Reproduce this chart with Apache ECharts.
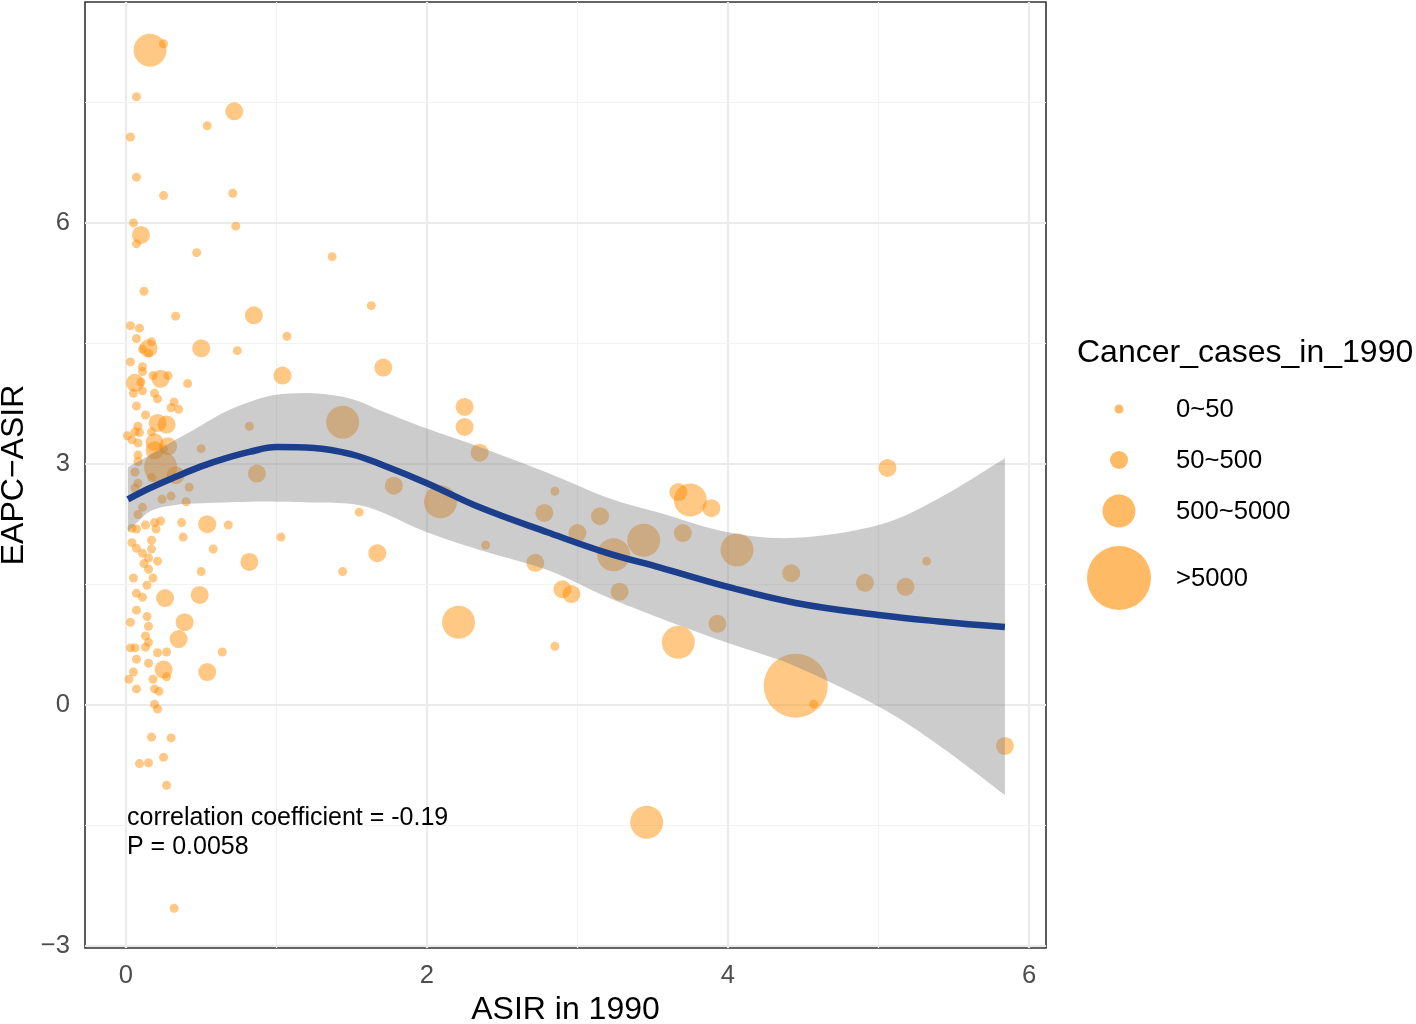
<!DOCTYPE html>
<html>
<head>
<meta charset="utf-8">
<script src="https://cdn.jsdelivr.net/npm/echarts@6/dist/echarts.min.js"></script>
<style>html,body{margin:0;padding:0;background:#fff}#c{width:1416px;height:1024px}</style>
</head>
<body>
<div id="c"></div>
<script>
// ---- data ----
const caseLabels = ['0~50', '50~500', '500~5000', '>5000'];
const asir = [
 0.16,0.25,0.07,0.72,0.54,0.03,0.07,0.25,0.71,0.05,
 0.73,0.10,0.07,0.47,0.12,1.37,1.63,0.85,0.33,1.07,
 0.03,0.09,0.07,0.17,0.15,0.11,0.15,0.50,0.74,1.71,
 1.04,0.03,0.11,0.11,0.06,0.10,0.18,0.23,0.28,0.05,
 0.11,0.19,0.21,0.41,0.07,0.32,0.30,0.35,0.13,0.21,
 0.27,0.08,0.06,0.01,0.17,0.09,0.04,0.08,0.19,0.28,
 0.19,0.25,0.08,0.08,0.23,0.82,0.50,1.44,2.25,2.25,
 2.35,0.06,0.08,0.06,0.17,0.33,0.42,0.87,0.24,0.30,
 0.40,0.11,0.08,0.04,0.07,0.13,0.19,0.23,0.20,0.37,
 0.54,0.68,0.38,1.03,0.04,0.17,0.07,0.11,0.17,0.58,
 0.15,0.12,0.21,0.15,0.82,0.50,0.05,0.18,0.14,0.07,
 0.11,0.26,0.49,0.07,0.14,0.15,0.39,0.03,0.13,0.15,
 0.35,0.03,0.06,0.13,0.21,0.27,0.64,0.07,0.15,0.25,
 0.54,0.05,0.02,0.18,0.27,0.07,0.19,0.22,0.19,0.21,
 0.17,0.30,0.25,0.09,0.15,0.27,0.32,1.78,2.09,1.55,
 2.85,2.78,3.15,3.00,3.44,3.24,3.70,3.67,3.75,3.89,
 4.06,2.72,2.90,2.96,3.28,2.85,3.93,3.67,4.45,4.57,
 5.06,4.42,4.91,5.18,5.32,5.84,3.46,2.21,1.67,1.44,2.39
];
const eapc = [
 8.15,8.23,7.57,7.39,7.21,7.07,6.57,6.34,6.37,6.00,
 5.96,5.85,5.74,5.63,5.15,5.58,4.97,4.85,4.84,4.59,
 4.72,4.69,4.56,4.52,4.44,4.43,4.38,4.44,4.41,4.20,
 4.10,4.27,4.21,4.15,4.01,4.02,4.10,4.06,4.10,3.88,
 3.91,3.88,3.81,4.00,3.72,3.77,3.70,3.68,3.61,3.51,
 3.49,3.47,3.40,3.35,3.40,3.39,3.30,3.26,3.27,3.22,
 3.17,3.19,3.11,3.03,2.96,3.47,3.19,3.52,3.71,3.46,
 3.14,2.90,2.76,2.70,2.83,2.86,2.71,2.88,2.56,2.60,
 2.53,2.46,2.37,2.20,2.19,2.24,2.27,2.29,2.19,2.27,
 2.25,2.24,2.09,2.09,2.02,2.05,1.95,1.89,1.94,1.94,
 1.83,1.76,1.79,1.69,1.78,1.66,1.58,1.58,1.49,1.39,
 1.34,1.33,1.37,1.18,1.10,0.98,1.03,1.03,0.86,0.78,
 0.82,0.71,0.71,0.72,0.65,0.66,0.66,0.57,0.52,0.44,
 0.41,0.41,0.32,0.32,0.35,0.20,0.20,0.17,0.01,-0.05,
 -0.40,-0.41,-0.65,-0.73,-0.72,-1.00,-2.53,2.73,2.53,2.40,
 2.66,2.39,2.35,2.14,2.05,1.87,2.14,2.65,2.55,2.45,
 1.93,1.77,1.44,1.38,1.41,0.73,1.01,0.78,0.24,0.01,
 2.95,1.64,1.52,1.47,1.79,-0.51,-1.46,1.03,1.89,1.66,1.99
];
// index into caseLabels
const caseGroup = [
 2,0,0,1,0,0,0,0,0,0,
 0,1,0,0,0,0,0,1,0,0,
 0,0,0,0,1,0,0,1,0,1,
 1,0,0,0,1,0,0,1,0,0,
 0,0,0,0,0,0,0,0,0,1,
 1,0,0,0,0,0,0,0,1,1,
 1,0,0,0,2,0,0,2,1,1,
 1,0,0,0,0,1,0,1,0,0,
 0,0,0,0,0,0,0,0,0,0,
 1,0,0,0,0,0,0,0,0,0,
 0,0,0,0,1,0,0,0,0,0,
 0,1,1,0,0,0,1,0,0,0,
 1,0,0,0,0,0,0,0,0,1,
 1,0,0,0,0,0,0,0,0,0,
 0,0,0,0,0,0,0,1,2,0,
 0,1,1,1,2,2,1,1,2,1,
 2,1,1,1,1,0,1,2,3,0,
 1,1,1,1,0,1,2,2,1,0,0
];
// loess fit and confidence band
const fitX  = [0.013,0.16,0.33,0.5,0.66,0.82,1.0,1.25,1.5,1.7,2.0,2.35,2.8,3.2,3.55,4.0,4.45,5.0,5.4,5.84];
const fitY  = [2.56,2.70,2.84,2.97,3.07,3.15,3.21,3.20,3.12,2.99,2.76,2.46,2.15,1.89,1.71,1.47,1.27,1.12,1.04,0.97];
const bandHi= [2.96,3.11,3.30,3.48,3.65,3.77,3.86,3.88,3.81,3.66,3.44,3.21,2.89,2.58,2.39,2.15,2.08,2.24,2.57,3.07];
const bandLo= [2.15,2.41,2.49,2.51,2.52,2.53,2.53,2.52,2.50,2.40,2.15,1.93,1.68,1.34,1.08,0.77,0.48,-0.02,-0.50,-1.12];
const xTicks = [0, 2, 4, 6];
const yTicks = [-3, 0, 3, 6];
const xGridMajor = [0, 2, 4, 6], xGridMinor = [1, 3, 5];
const yGridMajor = [-3, 0, 3, 6], yGridMinor = [-1.5, 1.5, 4.5, 7.5];
const corrText = 'correlation coefficient = -0.19';
const pText = 'P = 0.0058';

// ---- styling ----
const FONT = '"Liberation Sans", Arial, Helvetica, sans-serif';
const ptColor = 'rgba(255,140,0,0.6)';
const bandColor = 'rgba(128,128,128,0.4)';
const sizeByGroup = [9, 18, 33, 64];
const fmtNum = v => (v < 0 ? '\u2212' + Math.abs(v) : String(v));

// Catmull-Rom -> cubic bezier path segments through pixel points
function splinePath(pts, moveFirst) {
  let d = (moveFirst ? 'M' : 'L') + pts[0][0] + ' ' + pts[0][1];
  for (let i = 0; i < pts.length - 1; i++) {
    const p0 = pts[Math.max(i - 1, 0)], p1 = pts[i], p2 = pts[i + 1], p3 = pts[Math.min(i + 2, pts.length - 1)];
    const c1 = [p1[0] + (p2[0] - p0[0]) / 6, p1[1] + (p2[1] - p0[1]) / 6];
    const c2 = [p2[0] - (p3[0] - p1[0]) / 6, p2[1] - (p3[1] - p1[1]) / 6];
    d += 'C' + c1[0] + ' ' + c1[1] + ' ' + c2[0] + ' ' + c2[1] + ' ' + p2[0] + ' ' + p2[1];
  }
  return d;
}

const chart = echarts.init(document.getElementById('c'), null, {renderer: 'canvas'});

const gridLines = [];
xGridMajor.forEach(v => gridLines.push({xAxis: v, lineStyle: {color: '#EBEBEB', width: 2.2, type: 'solid'}}));
xGridMinor.forEach(v => gridLines.push({xAxis: v, lineStyle: {color: '#F2F2F2', width: 1.2, type: 'solid'}}));
yGridMajor.forEach(v => gridLines.push({yAxis: v, lineStyle: {color: '#EBEBEB', width: 2.2, type: 'solid'}}));
yGridMinor.forEach(v => gridLines.push({yAxis: v, lineStyle: {color: '#F2F2F2', width: 1.2, type: 'solid'}}));

const legendTop = 410, legendGaps = [0, 51, 102, 169];
const graphics = [
  {type: 'text', z: 100, left: 1077, top: 337, style: {text: 'Cancer_cases_in_1990', font: '32px ' + FONT, fill: '#000'}}
];
caseLabels.forEach((lab, i) => {
  const cy = legendTop + legendGaps[i];
  graphics.push({type: 'circle', z: 100, shape: {cx: 1119, cy: cy - 1, r: sizeByGroup[i] / 2}, style: {fill: ptColor}});
  graphics.push({type: 'text', z: 100, x: 1176, y: cy, style: {text: lab, font: '25.6px ' + FONT, fill: '#000', verticalAlign: 'middle'}});
});
graphics.push({type: 'text', z: 100, x: 127, y: 818, style: {text: corrText, font: '25px ' + FONT, fill: '#000', verticalAlign: 'middle'}});
graphics.push({type: 'text', z: 100, x: 127, y: 847, style: {text: pText, font: '25px ' + FONT, fill: '#000', verticalAlign: 'middle'}});

const option = {
  backgroundColor: '#fff',
  animation: false,
  textStyle: {fontFamily: FONT},
  grid: {left: 85, right: 370, top: 2, bottom: 76, show: true, borderColor: '#333333', borderWidth: 1.6,
         backgroundColor: '#fff', containLabel: false, outerBoundsMode: 'none'},
  xAxis: {
    type: 'value', min: -0.272, max: 6.113,
    name: 'ASIR in 1990', nameLocation: 'middle', nameGap: 45,
    nameTextStyle: {fontSize: 32, color: '#000', fontFamily: FONT},
    axisLine: {show: false},
    axisTick: {show: true, length: 7, customValues: xTicks, lineStyle: {color: '#333', width: 1.6}},
    axisLabel: {show: true, customValues: xTicks, margin: 15, fontSize: 25.6, color: '#4D4D4D', fontFamily: FONT, formatter: fmtNum},
    splitLine: {show: false}
  },
  yAxis: {
    type: 'value', min: -3.025, max: 8.75,
    name: 'EAPC\u2212ASIR', nameLocation: 'middle', nameGap: 50,
    nameTextStyle: {fontSize: 32, color: '#000', fontFamily: FONT},
    axisLine: {show: false},
    axisTick: {show: true, length: 7, customValues: yTicks, lineStyle: {color: '#333', width: 1.6}},
    axisLabel: {show: true, customValues: yTicks, margin: 15, fontSize: 25.6, color: '#4D4D4D', fontFamily: FONT, formatter: fmtNum},
    splitLine: {show: false}
  },
  graphic: graphics,
  series: [
    {
      type: 'scatter', z: 2,
      data: asir.map((x, i) => [x, eapc[i], caseGroup[i]]),
      symbolSize: v => sizeByGroup[v[2]],
      itemStyle: {color: ptColor, borderWidth: 0},
      silent: true,
      markLine: {silent: true, z: 1, symbol: ['none', 'none'], label: {show: false}, emphasis: {disabled: true}, data: gridLines, animation: false}
    },
    {
      type: 'custom', z: 3, silent: true, clip: true,
      data: [[fitX[0], fitY[0]]],
      renderItem: (params, api) => {
        const hi = fitX.map((x, i) => api.coord([x, bandHi[i]]));
        const lo = fitX.map((x, i) => api.coord([x, bandLo[i]])).reverse();
        const d = splinePath(hi, true) + splinePath(lo, false) + 'Z';
        return {type: 'path', shape: {pathData: d, layout: 'center'}, style: {fill: bandColor, stroke: null}};
      }
    },
    {
      type: 'line', z: 4, silent: true, smooth: 0.4, showSymbol: false, symbol: 'none',
      data: fitX.map((x, i) => [x, fitY[i]]),
      lineStyle: {color: '#1B3F8C', width: 6.5, cap: 'butt'}
    }
  ]
};
chart.setOption(option);
</script>
</body>
</html>
